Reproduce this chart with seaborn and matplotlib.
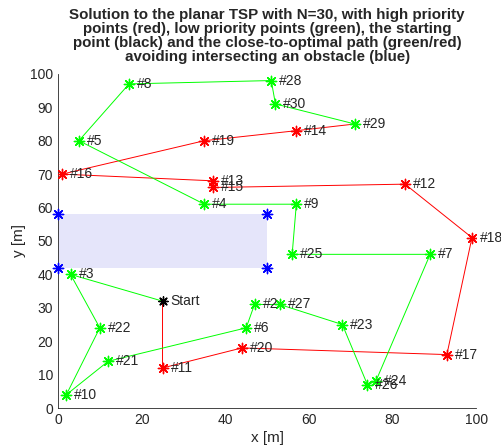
import numpy as np
import pandas as pd
import matplotlib
matplotlib.use('Agg')
import matplotlib.pyplot as plt
import seaborn as sns

# points: id, x, y
high_ids = [11, 12, 13, 14, 15, 16, 17, 18, 19, 20]
high_x = [25, 83, 37, 57, 37, 1, 93, 99, 35, 44]
high_y = [12, 67, 68, 83, 66, 70, 16, 51, 80, 18]

low_ids = [2, 3, 4, 5, 6, 7, 8, 9, 10, 21, 22, 23, 24, 25, 26, 27, 28, 29, 30]
low_x = [47, 3, 35, 5, 45, 89, 17, 57, 2, 12, 10, 68, 76, 56, 74, 53, 51, 71, 52]
low_y = [31, 40, 61, 80, 24, 46, 97, 61, 4, 14, 24, 25, 8, 46, 7, 31, 98, 85, 91]

start_x, start_y = 25, 32

# tour order (0 = start)
red_route = [0, 11, 20, 17, 18, 12, 15, 13, 16, 19, 14, 29]
green_route = [29, 30, 28, 8, 5, 4, 9, 25, 7, 24, 26, 23, 27, 2, 6, 21, 10, 22, 3, 0]

obstacle_x = [0, 50]
obstacle_y = [42, 58]

sns.set_style('white')
plt.rcParams['font.family'] = ['Liberation Sans', 'DejaVu Sans']

coords = {0: (start_x, start_y)}
for i, x, y in zip(high_ids, high_x, high_y):
    coords[i] = (x, y)
for i, x, y in zip(low_ids, low_x, low_y):
    coords[i] = (x, y)

def route_df(route):
    return pd.DataFrame({'x': [coords[i][0] for i in route],
                         'y': [coords[i][1] for i in route]})

fig = plt.figure(figsize=(5.02, 4.45), dpi=100)
ax = fig.add_axes([0.1155, 0.083, 0.833, 0.751])

# obstacle
ax.fill_between(obstacle_x, obstacle_y[0], obstacle_y[1], color='#e5e5fa', lw=0, zorder=0)
corner_df = pd.DataFrame({'x': [obstacle_x[0], obstacle_x[1], obstacle_x[0], obstacle_x[1]],
                          'y': [obstacle_y[1], obstacle_y[1], obstacle_y[0], obstacle_y[0]]})

ast = (8, 2, 0)
red, green = '#ff0000', '#00ff00'
sns.lineplot(data=route_df(red_route), x='x', y='y', sort=False, estimator=None,
             color=red, lw=0.7, ax=ax)
sns.lineplot(data=route_df(green_route), x='x', y='y', sort=False, estimator=None,
             color=green, lw=0.7, ax=ax)

high_df = pd.DataFrame({'x': high_x, 'y': high_y})
low_df = pd.DataFrame({'x': low_x, 'y': low_y})
sns.scatterplot(data=high_df, x='x', y='y', marker=ast, s=55, color=red,
                edgecolor=red, linewidth=1.0, ax=ax, zorder=3)
sns.scatterplot(data=low_df, x='x', y='y', marker=ast, s=55, color=green,
                edgecolor=green, linewidth=1.0, ax=ax, zorder=3)
sns.scatterplot(data=corner_df, x='x', y='y', marker=ast, s=55, color='#0000ff',
                edgecolor='#0000ff', linewidth=1.0, ax=ax, zorder=3, clip_on=False)
sns.scatterplot(x=[start_x], y=[start_y], marker=ast, s=45, color='black',
                edgecolor='black', linewidth=1.0, ax=ax, zorder=3)

for i, x, y in zip(high_ids + low_ids, high_x + low_x, high_y + low_y):
    ax.text(x + 1.9, y, f'#{i}', va='center', ha='left', fontsize=10)
ax.text(start_x + 1.9, start_y, 'Start', va='center', ha='left', fontsize=10)

ax.set_xlim(0, 100)
ax.set_ylim(0, 100)
ax.set_xticks(np.arange(0, 101, 20))
ax.set_yticks(np.arange(0, 101, 10))
ax.tick_params(direction='in', length=4, width=0.6, colors='#262626', labelsize=10)
for s in ['top', 'right']:
    ax.spines[s].set_visible(False)
for s in ['left', 'bottom']:
    ax.spines[s].set_color('#262626')
    ax.spines[s].set_linewidth(0.6)
ax.set_xlabel('x [m]', fontsize=11, labelpad=3)
ax.set_ylabel('y [m]', fontsize=11, labelpad=3)
ax.set_title('Solution to the planar TSP with N=30, with high priority\n'
             'points (red), low priority points (green), the starting\n'
             'point (black) and the close-to-optimal path (green/red)\n'
             'avoiding intersecting an obstacle (blue)',
             fontsize=10.9, fontweight='bold', linespacing=1.0, pad=9)

fig.savefig('out.png', dpi=100)
